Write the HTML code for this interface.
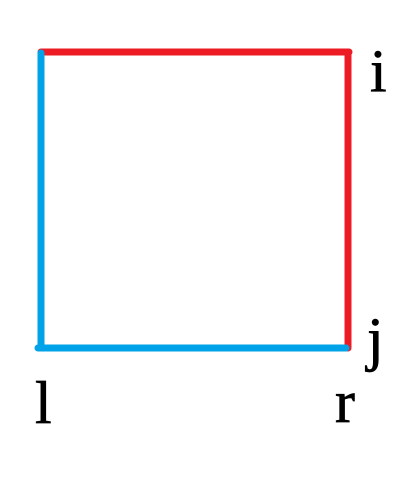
<!DOCTYPE html>
<html><head><meta charset="utf-8"><style>
html,body{margin:0;padding:0;background:#fff;width:420px;height:488px;overflow:hidden}
text{font-family:"Liberation Serif",serif;font-size:60px;fill:#000;stroke:#000;stroke-width:0.7}
</style></head><body>
<svg width="420" height="488">
<line x1="41" y1="52" x2="349" y2="52" stroke="#ed1c24" stroke-width="7" stroke-linecap="round"/>
<line x1="348" y1="52" x2="348" y2="348" stroke="#ed1c24" stroke-width="7" stroke-linecap="round"/>
<line x1="41" y1="53" x2="41" y2="348" stroke="#00a2e8" stroke-width="7" stroke-linecap="round"/>
<line x1="38" y1="348" x2="346" y2="348" stroke="#00a2e8" stroke-width="7" stroke-linecap="round"/>
<text x="370" y="91">i</text>
<text x="367" y="359">j</text>
<text x="35" y="423">l</text>
<text x="335" y="422">r</text>
</svg>
</body></html>
